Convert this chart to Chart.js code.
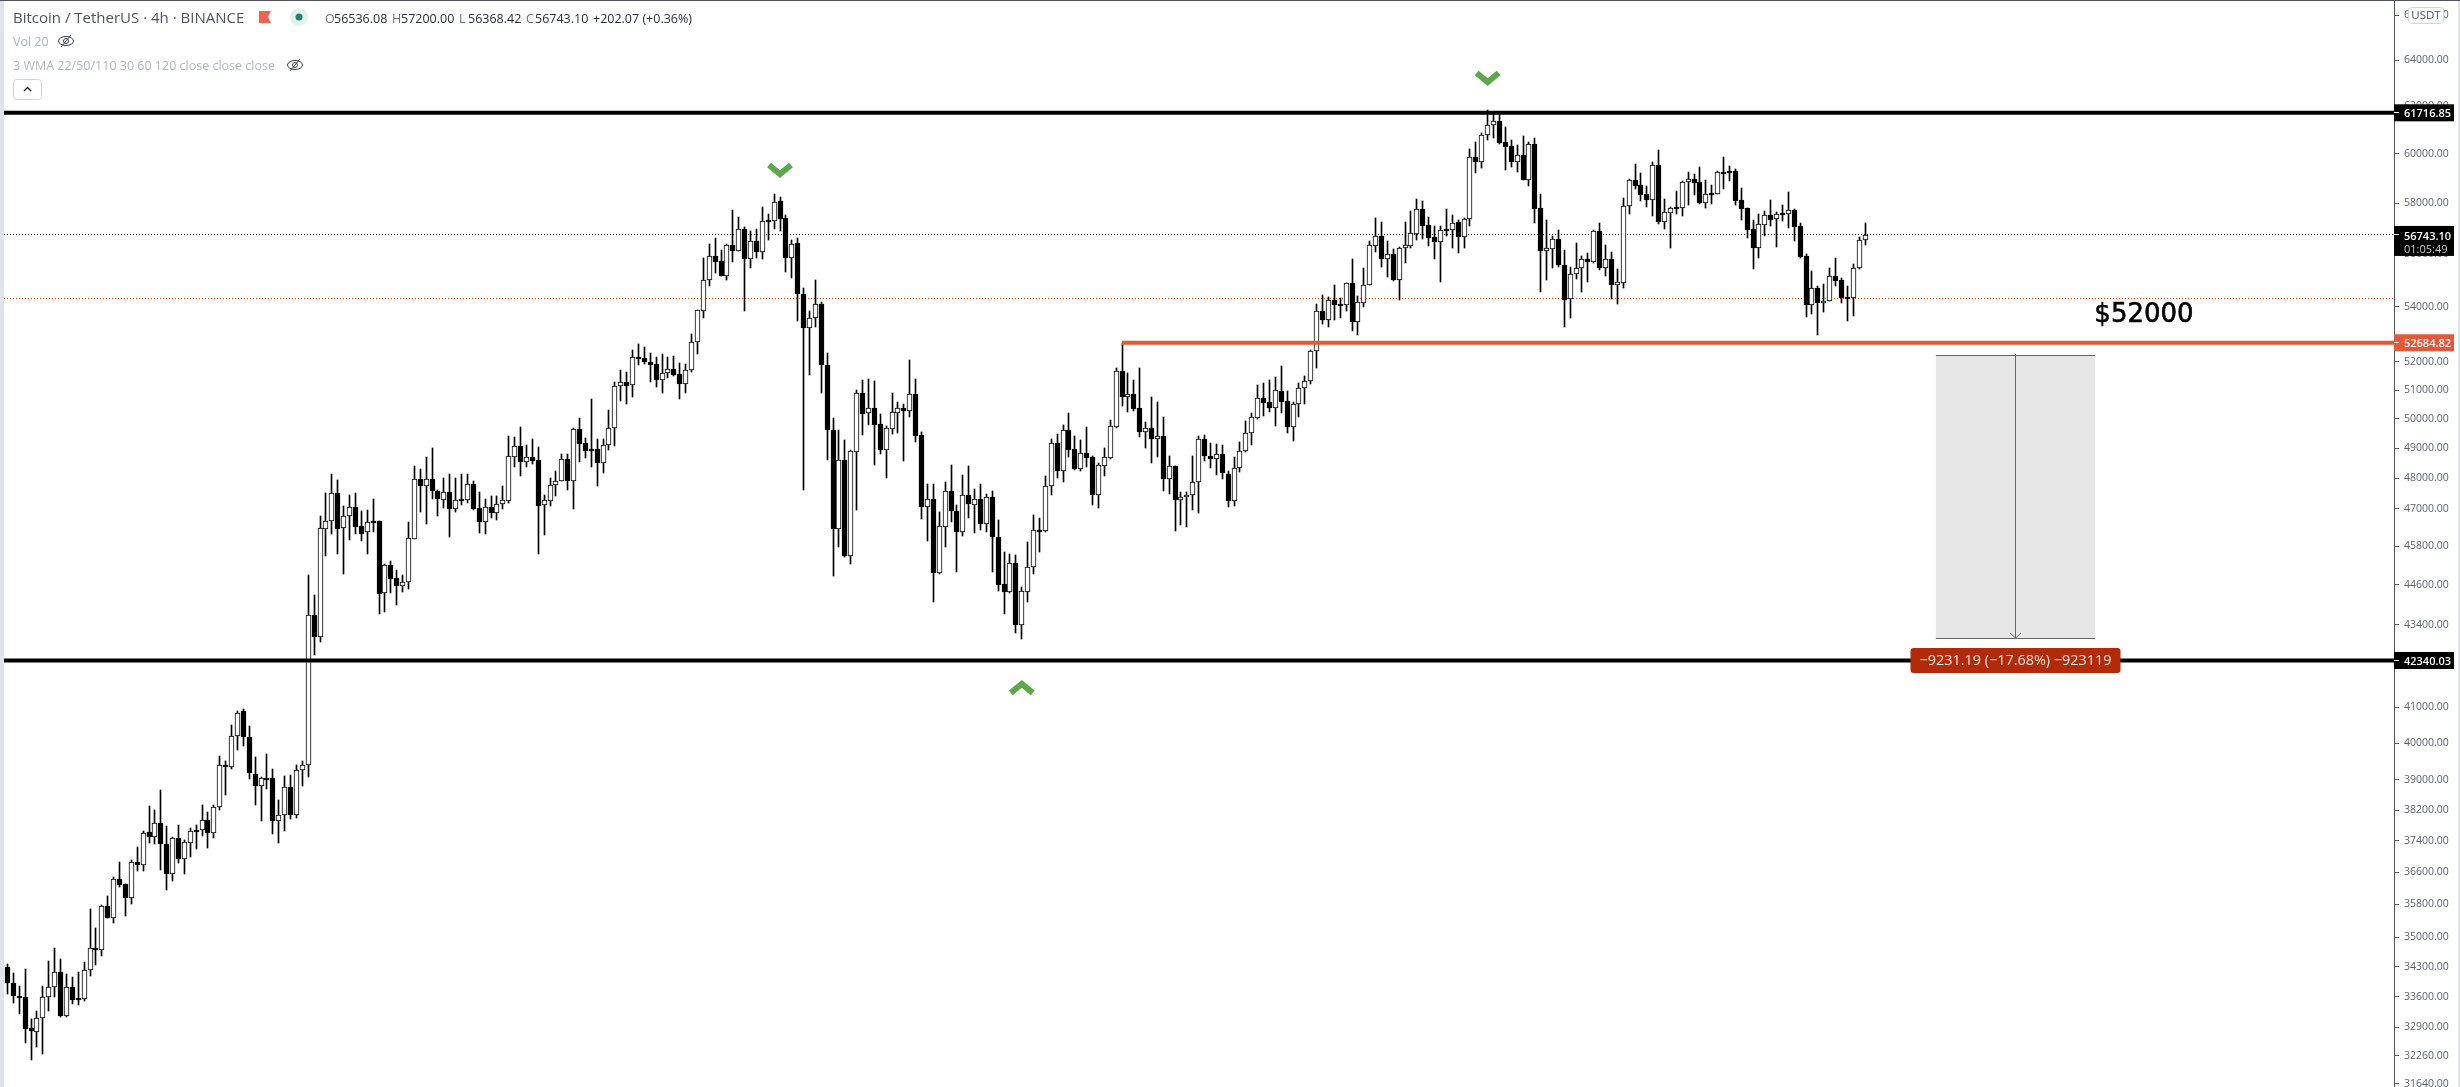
<!DOCTYPE html>
<html>
<head>
<meta charset="utf-8">
<title>Bitcoin / TetherUS 4h</title>
<script src="https://cdn.jsdelivr.net/npm/chart.js"></script>
<style>
    html, body { margin: 0; padding: 0; background: #ffffff; overflow: hidden; }
    canvas { display: block; }
</style>
</head>
<body>
<canvas id="btc_chart" width="2460" height="1087"></canvas>
<script>
    "use strict";

    const opens = [
        34280,33920,33610,33580,32870,32790,33100,33580,33810,34180,33150,33830,33560,33540,34230,34730,
        34690,35770,35470,36420,36300,35960,36850,36780,37620,37510,37850,37330,36560,37460,36940,37350,
        37690,37690,37950,37600,38290,39400,39350,40210,40880,40180,39170,38840,39050,39040,37920,38060,
        38800,38070,39280,39400,43700,43030,46350,46590,47500,46390,46770,47070,46430,46240,46590,46590,
        44360,45200,44800,44570,44690,46040,47960,47750,47960,47590,47290,47560,47000,47310,47290,47820,
        47010,46580,47070,46870,47160,47260,48710,49060,48520,48700,48590,47110,47260,47790,47920,48650,
        47910,49640,49160,48970,48960,48510,49110,49670,51130,51270,51160,52160,52120,52010,51910,51360,
        51590,51760,51550,51220,51720,52700,53860,55000,55910,55720,55180,56340,56130,56960,55830,56490,
        56090,57310,57300,58070,57390,55860,56410,54500,53230,53580,54100,51900,49630,46360,48600,45500,
        48880,50880,50190,50360,49810,48950,49660,50210,50390,50280,50850,49430,47060,47330,44970,46420,
        47590,46940,46260,47430,47130,47300,46510,47390,46110,44640,44380,45290,43390,44390,45140,46330,
        46290,47730,49190,48240,49600,48960,48310,48850,48690,47460,48410,48680,49730,51660,50760,50850,
        50360,49560,49700,49320,49400,47980,48390,47290,47370,47460,47860,49300,48750,48650,48820,48150,
        47260,48340,48890,49530,50030,50710,50570,50380,50950,50600,49730,50500,51060,51300,52370,53840,
        53530,54240,54110,54080,54880,53450,54160,54830,56320,56720,55820,55990,55020,56220,56320,56790,
        57750,57120,56650,56480,56960,56920,57250,56670,57350,59870,59680,60770,61190,61360,60470,60310,
        59680,59940,58940,60390,57790,56130,56210,56570,55600,54280,55220,55450,55830,55710,56880,55480,
        55800,54830,54910,57870,58910,58710,58350,58130,59520,57260,57620,57830,57820,58830,58950,58830,
        58000,58400,58380,59250,59280,59280,58110,57790,56960,56240,57140,57510,57350,57600,57580,57710,
        57080,55910,54080,54690,54160,54230,55150,55000,54370,54340,55450,56536.08
    ];
    const highs = [
        34350,34140,33840,34240,33080,33260,33840,34420,34740,34470,34120,34050,34170,34400,35680,35220,
        35790,36000,36490,36850,36300,36920,37230,37660,38300,38190,38720,37770,37510,37800,37410,37720,
        37800,38330,38160,38340,39660,39500,40500,40890,40960,40470,39610,39090,39700,39290,38460,39100,
        39130,39390,39500,44920,44280,46780,47510,48150,47930,47080,47440,47510,46920,46950,47310,46590,
        45240,45330,45060,44900,46570,48400,48300,48700,49000,47600,47990,48120,47990,48150,48150,47920,
        47560,47310,47410,47400,47740,49410,49370,49720,49100,49310,49030,47440,47990,48230,48790,48790,
        49680,50020,49340,50680,49310,49310,50300,51270,51690,51630,52420,52640,52530,52310,52160,52280,
        52160,52200,51950,51920,53000,53880,55850,56390,56610,56160,56390,57720,57450,57050,56890,56970,
        57840,57560,58360,58240,57530,56540,56610,54710,53850,55010,54170,52310,50020,49610,49270,48930,
        51000,51350,51380,51310,50160,49750,50890,50580,50510,52060,51380,49540,47800,47800,46890,47870,
        48430,47120,48100,48400,47640,47800,47470,47570,46630,45620,45550,45520,44530,45930,46790,46700,
        48070,49310,49480,49780,50200,49410,49270,49720,48730,48490,49000,49960,51780,52680,51600,51350,
        51780,49880,50750,50580,50060,48730,48390,47540,47540,48730,49400,49440,49170,49140,49100,48230,
        48700,49200,49920,50190,51170,51240,51350,51460,51850,50960,50580,51240,51490,52420,54110,54440,
        54370,54820,54330,54890,55810,54400,55460,56500,57410,57250,56500,56190,56270,57250,57680,58160,
        58080,57450,57090,57090,57760,57530,57330,57410,60200,60490,60860,61840,61710,61710,61120,60570,
        60360,60750,60490,60660,58360,57330,56700,56930,56150,55500,56430,55930,56040,56930,57210,56350,
        56080,55430,58200,58950,59580,59210,58680,59660,60160,58160,57860,58480,58890,59250,59170,59460,
        58930,58730,59290,59870,59500,59380,58600,57800,57330,57560,57680,58120,57640,57920,58440,57760,
        57210,56000,55350,54780,54860,55460,55850,55070,54780,55610,56660,57200
    ];
    const lows = [
        33650,33450,33190,32540,32160,32450,32290,33260,33590,33140,33130,33420,33400,33500,34070,34330,
        34540,35460,35340,36230,35510,35800,36620,36620,37340,37310,36650,36150,36370,36830,36550,36980,
        37180,37520,37210,37470,38200,38590,39290,39800,39910,39020,38330,37910,38750,37570,37340,37650,
        37960,37990,38830,39070,42500,42880,45490,46190,45550,44930,46000,46190,45960,45550,46250,43710,
        43770,44350,43980,44380,44470,46030,46890,46500,47310,46760,47020,46090,46890,47120,47180,46950,
        46220,46190,46700,46630,46990,47180,48360,48070,48360,48470,45550,46150,47080,47410,47920,47600,
        46990,48530,48660,48360,47740,48170,48930,49070,50610,50510,50750,51880,51920,51280,51100,50890,
        51420,51490,50680,50890,51630,52280,53590,54780,55270,55170,55010,55690,56120,53850,55460,55850,
        55810,56540,56970,56890,55310,55080,53480,47600,51530,53260,50890,48600,44870,45770,45480,45240,
        46950,49440,49780,48430,48800,48000,49480,49510,48560,50060,49200,46660,45960,44070,44930,45770,
        46570,44990,46120,46700,46220,46310,46250,44990,44410,43710,44350,43140,42970,44070,44930,45620,
        46250,47450,48000,47870,48700,48260,48230,48370,47120,47020,48070,48630,49700,50440,50230,50270,
        49380,49000,48500,48700,47570,47470,46280,46470,46410,46950,46860,48560,48330,48100,47970,47050,
        47090,48200,48860,49100,50010,50090,50230,49750,50200,49510,49240,50060,50510,51210,51780,53370,
        53260,53510,53590,53850,53110,52960,54000,54820,56080,55500,55120,54970,54260,55650,56230,56540,
        56580,56310,55810,54930,56700,56230,56040,56230,57090,59210,59420,60570,60670,60400,59330,59460,
        59250,58930,58680,57210,54560,55010,55460,55500,53260,53590,55050,54560,54930,55660,55390,55160,
        54290,54110,54710,57560,58560,58080,57840,57490,57170,56970,56230,57560,57490,57920,58320,57960,
        57800,57960,58360,58560,58890,57920,57330,56620,55430,55850,56700,57090,56270,57290,57010,56500,
        55850,53630,53740,52960,53810,54220,54780,54140,53480,53660,55440,56368.42
    ];
    const closes = [
        33920,33610,33570,32860,32810,33100,33580,33810,34180,33150,33830,33520,33520,34230,34730,34690,
        35770,35470,36420,36280,35960,36850,36780,37610,37510,37850,37320,36560,37460,36940,37360,37660,
        37650,37950,37600,38290,39390,39350,40210,40850,40170,39190,38840,39040,39030,37920,38060,38800,
        38070,39280,39400,43700,43030,46370,46590,47500,46350,46780,47070,46420,46200,46560,46550,44330,
        45200,44790,44570,44700,46050,47960,47740,47960,47580,47320,47560,47000,47270,47260,47820,47000,
        46580,47070,46870,47140,47270,48720,49060,48540,48690,48580,47090,47270,47790,47920,48650,47910,
        49640,49150,48910,48910,48510,49110,49670,51130,51270,51150,52160,52110,51990,51890,51350,51590,
        51760,51530,51220,51720,52700,53870,55000,55910,55710,55180,56340,56130,56960,55820,56490,56090,
        57270,57260,58060,57380,55860,56400,54490,53230,53580,54100,51890,49620,46360,48590,45490,48890,
        50880,50180,50360,49780,48950,49670,50220,50390,50280,50850,49410,47050,47330,44960,46430,47590,
        46930,46250,47430,47160,47300,46500,47390,46100,44590,44380,45290,43390,44400,45140,46330,46290,
        47730,49190,48240,49600,48950,48300,48850,48680,47450,48450,48690,49740,51660,50760,50850,50350,
        49560,49690,49320,49400,47980,48390,47290,47370,47460,47860,49300,48740,48630,48820,48160,47260,
        48350,48890,49530,50050,50710,50560,50380,50990,50590,49730,50500,51060,51300,52370,53840,53530,
        54240,54080,54080,54880,53450,54170,54840,56340,56720,55820,55990,55010,56220,56340,56800,57750,
        57100,56630,56470,56950,56910,57230,56670,57350,59860,59660,60770,61190,61360,60430,60290,59680,
        59940,58940,60390,57780,56130,56220,56570,55600,54260,55220,55450,55830,55710,56880,55480,55830,
        54820,54930,57870,58910,58680,58340,58130,59520,57260,57630,57790,57790,58830,58950,58820,58000,
        58350,58340,59240,59210,59210,58100,57780,56950,56240,57160,57510,57340,57550,57540,57710,57060,
        55900,54080,54690,54160,54230,55150,54980,54320,54330,55450,56530,56743.1
    ];

    const axisTicks = [66000, 64000, 62000, 60000, 58000, 56000, 54000, 52000, 51000, 50000, 49000, 48000, 47000,
        45800, 44600, 43400, 42200, 41000, 40000, 39000, 38200, 37400, 36600, 35800, 35000, 34300, 33600, 32900, 32260, 31640];

    const resistanceLevel = 61716.85;
    const supportLevel = 42340.03;
    const redLevel = 52684.82;
    const lastPrice = 56743.10;
    const orangeDotLevel = 54320;
    const redLineStart = 189;
    const measureCandles = [327, 354];
    const measurePrices = [52231, 43000];
    const downMarks = [[131, 59334], [251, 63212]];
    const upMarks = [[172, 41550]];
    const noteText = '$52000';
    const noteAt = [362.3, 53700];

    const UI_FONT = '"Open Sans", sans-serif';

    const indexes = opens.map(function (v, i) { return i; });
    const wickData = indexes.map(function (i) { return { x: i, y: [lows[i], highs[i]] }; });
    const bodyData = indexes.map(function (i) {
        return { x: i, y: [Math.min(opens[i], closes[i]), Math.max(opens[i], closes[i])] };
    });
    const bodyColors = indexes.map(function (i) { return closes[i] >= opens[i] ? '#ffffff' : '#000000'; });

    function text(ctx, str, x, y, font, color, align) {
        ctx.font = font;
        ctx.fillStyle = color;
        ctx.textAlign = align || 'left';
        ctx.textBaseline = 'middle';
        ctx.fillText(str, x, y);
    }

    function hLine(ctx, x1, x2, y, width, color, dash) {
        ctx.save();
        ctx.beginPath();
        ctx.strokeStyle = color;
        ctx.lineWidth = width;
        ctx.setLineDash(dash || []);
        ctx.moveTo(x1, y);
        ctx.lineTo(x2, y);
        ctx.stroke();
        ctx.restore();
    }

    function eyeIcon(ctx, cx, cy) {
        ctx.save();
        ctx.strokeStyle = '#3b3d45';
        ctx.lineWidth = 1;
        ctx.beginPath();
        ctx.ellipse(cx, cy, 7.5, 4.5, 0, 0, Math.PI * 2);
        ctx.stroke();
        ctx.beginPath();
        ctx.arc(cx, cy, 2.5, 0, Math.PI * 2);
        ctx.stroke();
        ctx.beginPath();
        ctx.moveTo(cx - 5, cy + 6);
        ctx.lineTo(cx + 5, cy - 6);
        ctx.stroke();
        ctx.restore();
    }

    function chevron(ctx, x, y, dir) {
        ctx.save();
        ctx.strokeStyle = '#5ca84a';
        ctx.lineWidth = 6;
        ctx.beginPath();
        ctx.moveTo(x - 11, y - 5 * dir);
        ctx.lineTo(x, y + 4 * dir);
        ctx.lineTo(x + 11, y - 5 * dir);
        ctx.stroke();
        ctx.restore();
    }

    function priceTag(ctx, axisX, y, color, str) {
        ctx.fillStyle = color;
        ctx.fillRect(axisX, y - 8.5, 60, 17);
        hLine(ctx, axisX, axisX + 5, Math.floor(y) + 0.5, 1, '#ffffff');
        text(ctx, str, axisX + 10, y + 1, '600 11px ' + UI_FONT, '#ffffff');
    }

    // bars land on fractional pixels otherwise and the 1px wicks go grey
    const snapBars = {
        id: 'snapBars',
        afterDatasetsUpdate: function (chart) {
            chart.getSortedVisibleDatasetMetas().forEach(function (meta) {
                meta.data.forEach(function (bar) {
                    bar.x = Math.floor(bar.x) + 0.5;
                    bar.y = Math.round(bar.y);
                    bar.base = Math.round(bar.base);
                    if (bar.base - bar.y < 2) {
                        bar.base = bar.y + 2;
                    }
                    bar.height = bar.base - bar.y;
                });
            });
        },
    };

    const overlay = {
        id: 'overlay',
        beforeDatasetsDraw: function (chart) {
            const ctx = chart.ctx;
            const yS = chart.scales.y;
            const area = chart.chartArea;
            hLine(ctx, 4, area.right, Math.floor(yS.getPixelForValue(lastPrice)) + 0.5, 1, '#131722', [1, 2]);
            hLine(ctx, 4, area.right, Math.floor(yS.getPixelForValue(orangeDotLevel)) + 0.5, 1, '#f4410f', [1, 2]);
        },
        afterDraw: function (chart) {
            const ctx = chart.ctx;
            const xS = chart.scales.x;
            const yS = chart.scales.y;
            const axisX = chart.chartArea.right;

            // measure box
            const mx1 = xS.getPixelForValue(measureCandles[0]);
            const mx2 = xS.getPixelForValue(measureCandles[1]);
            const my1 = Math.round(yS.getPixelForValue(measurePrices[0]));
            const my2 = Math.round(yS.getPixelForValue(measurePrices[1]));
            const mid = Math.floor((mx1 + mx2) / 2) + 0.5;
            ctx.fillStyle = '#e6e6e6';
            ctx.fillRect(mx1, my1, mx2 - mx1, my2 - my1);
            hLine(ctx, mx1, mx2, my1 + 0.5, 1, '#666666');
            hLine(ctx, mx1, mx2, my2 + 0.5, 1, '#666666');
            ctx.strokeStyle = '#666666';
            ctx.lineWidth = 1;
            ctx.beginPath();
            ctx.moveTo(mid, my1 - 1);
            ctx.lineTo(mid, my2);
            ctx.moveTo(mid - 5.5, my2 - 5);
            ctx.lineTo(mid, my2);
            ctx.lineTo(mid + 5.5, my2 - 5);
            ctx.stroke();

            // horizontal levels
            const rY = yS.getPixelForValue(resistanceLevel);
            const sY = yS.getPixelForValue(supportLevel);
            const redY = yS.getPixelForValue(redLevel);
            hLine(ctx, 4, axisX, rY, 4, '#000000');
            hLine(ctx, 4, axisX, sY, 4, '#000000');
            hLine(ctx, xS.getPixelForValue(redLineStart), axisX, redY, 4, '#e0593a');

            // badge of the measure tool
            ctx.fillStyle = '#b22a08';
            ctx.beginPath();
            ctx.roundRect(mid - 105, sY - 12.5, 210, 25, 3);
            ctx.fill();
            text(ctx, '\u22129231.19 (\u221217.68%) \u2212923119', mid, sY + 0.5, '14.4px ' + UI_FONT, '#f2e6e2', 'center');

            downMarks.forEach(function (m) {
                chevron(ctx, xS.getPixelForValue(m[0]), yS.getPixelForValue(m[1]), 1);
            });
            upMarks.forEach(function (m) {
                chevron(ctx, xS.getPixelForValue(m[0]), yS.getPixelForValue(m[1]), -1);
            });

            const noteX = xS.getPixelForValue(noteAt[0]);
            const noteY = yS.getPixelForValue(noteAt[1]);
            text(ctx, noteText, noteX, noteY, '26px "DejaVu Sans"', '#000000', 'center');
            ctx.strokeStyle = '#000000';
            ctx.lineWidth = 0.6;
            ctx.strokeText(noteText, noteX, noteY);

            // tags on the price axis
            priceTag(ctx, axisX, rY, '#000000', resistanceLevel.toFixed(2));
            priceTag(ctx, axisX, redY, '#e0593a', redLevel.toFixed(2));
            priceTag(ctx, axisX, sY, '#000000', supportLevel.toFixed(2));
            const lastY = yS.getPixelForValue(lastPrice);
            ctx.fillStyle = '#000000';
            ctx.fillRect(axisX, lastY - 9, 60, 30);
            hLine(ctx, axisX, axisX + 5, Math.floor(lastY) + 0.5, 1, '#ffffff');
            text(ctx, lastPrice.toFixed(2), axisX + 10, lastY + 1.5, '600 11px ' + UI_FONT, '#ffffff');
            text(ctx, '01:05:49', axisX + 10, lastY + 14.5, '11px ' + UI_FONT, '#c8c9cc');

            // currency button
            ctx.fillStyle = '#ffffff';
            ctx.strokeStyle = '#d1d4dc';
            ctx.lineWidth = 1;
            ctx.beginPath();
            ctx.roundRect(2408.5, 7.5, 35, 16, 3);
            ctx.fill();
            ctx.stroke();
            text(ctx, 'USDT', 2426, 16, '11.5px ' + UI_FONT, '#50535e', 'center');

            // legend rows
            text(ctx, 'Bitcoin / TetherUS \u00b7 4h \u00b7 BINANCE', 13, 19, '15px ' + UI_FONT, '#50535e');
            ctx.fillStyle = '#ef6350';
            ctx.beginPath();
            ctx.moveTo(259, 11);
            ctx.lineTo(271, 11);
            ctx.lineTo(268, 17);
            ctx.lineTo(271, 23);
            ctx.lineTo(259, 23);
            ctx.fill();
            ctx.fillStyle = '#e3f0ee';
            ctx.beginPath();
            ctx.arc(299, 17, 9, 0, Math.PI * 2);
            ctx.fill();
            ctx.fillStyle = '#26806d';
            ctx.beginPath();
            ctx.arc(299, 17, 3.5, 0, Math.PI * 2);
            ctx.fill();

            let cursor = 325;
            [['O', '56536.08'], ['H', '57200.00'], ['L', '56368.42'], ['C', lastPrice.toFixed(2)]].forEach(function (p) {
                text(ctx, p[0], cursor, 19, '12.5px ' + UI_FONT, '#6b6e78');
                text(ctx, p[1], cursor + 9, 19, '12.5px ' + UI_FONT, '#2a2e39');
                cursor += 67;
            });
            text(ctx, '+202.07 (+0.36%)', cursor, 19, '12.5px ' + UI_FONT, '#2a2e39');

            text(ctx, 'Vol 20', 13, 42, '12.5px ' + UI_FONT, '#b2b5be');
            eyeIcon(ctx, 66, 41);
            text(ctx, '3 WMA 22/50/110 30 60 120 close close close', 13, 66, '12.5px ' + UI_FONT, '#b2b5be');
            eyeIcon(ctx, 295, 65);
            ctx.strokeStyle = '#d1d4dc';
            ctx.lineWidth = 1;
            ctx.beginPath();
            ctx.roundRect(13.5, 79.5, 28, 20, 3);
            ctx.stroke();
            ctx.strokeStyle = '#131722';
            ctx.lineWidth = 1.3;
            ctx.beginPath();
            ctx.moveTo(24, 91);
            ctx.lineTo(27.5, 87.5);
            ctx.lineTo(31, 91);
            ctx.stroke();

            // window edges
            ctx.fillStyle = '#e0e3eb';
            ctx.fillRect(0, 0, 4, chart.height);
            ctx.fillRect(2458, 0, 2, chart.height);
            ctx.fillStyle = '#50535e';
            ctx.fillRect(0, 0, chart.width, 1);
        },
    };

    function drawChart() {
        const ctx = document.getElementById('btc_chart').getContext('2d');
        return new Chart(ctx, {
            type: 'bar',
            data: {
                datasets: [{
                    label: 'wick',
                    data: wickData,
                    backgroundColor: '#000000',
                    borderWidth: 0,
                    barThickness: 1,
                    grouped: false,
                    order: 2,
                }, {
                    label: 'body',
                    data: bodyData,
                    backgroundColor: bodyColors,
                    borderColor: '#000000',
                    borderWidth: 1,
                    borderSkipped: false,
                    barThickness: 5,
                    grouped: false,
                    order: 1,
                }],
            },
            options: {
                responsive: false,
                animation: false,
                layout: { padding: 0 },
                plugins: {
                    legend: { display: false },
                    tooltip: { enabled: false },
                    title: { display: false },
                },
                scales: {
                    x: {
                        type: 'linear',
                        display: false,
                        offset: false,
                        min: -1.272,
                        max: 404.7,
                    },
                    y: {
                        type: 'logarithmic',
                        position: 'right',
                        min: 31572,
                        max: 66698,
                        border: { display: true, color: '#50535e', width: 1 },
                        grid: { drawOnChartArea: false, drawTicks: true, tickLength: 5, color: '#50535e' },
                        afterBuildTicks: function (axis) {
                            axis.ticks = axisTicks.map(function (v) { return { value: v, major: false }; });
                        },
                        afterFit: function (axis) {
                            axis.width = 66;
                            axis.paddingTop = 0;
                            axis.paddingBottom = 0;
                        },
                        ticks: {
                            autoSkip: false,
                            maxRotation: 0,
                            padding: 5,
                            color: '#5d606b',
                            font: { family: '"Open Sans"', size: 10.5 },
                            callback: function (value) {
                                return Number(value).toFixed(2);
                            },
                        },
                    },
                },
            },
            plugins: [snapBars, overlay],
        });
    }

    drawChart();
</script>
</body>
</html>
